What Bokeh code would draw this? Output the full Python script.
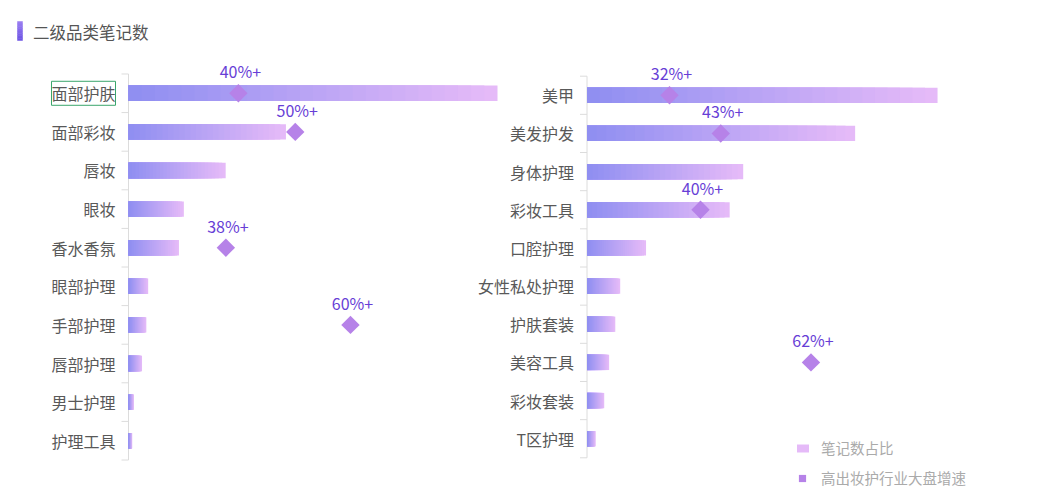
import numpy as np
from bokeh.plotting import figure
from bokeh.layouts import column
from bokeh.models import Range1d, FactorRange, Legend, LegendItem, ColumnDataSource
from bokeh.embed import file_html
from bokeh.resources import INLINE
from bokeh.core.properties import value

# ---------------- data ----------------
title_text = "二级品类笔记数"
left_categories = ["面部护肤", "面部彩妆", "唇妆", "眼妆", "香水香氛",
                   "眼部护理", "手部护理", "唇部护理", "男士护理", "护理工具"]
left_share = [30.0, 12.8, 7.9, 4.5, 4.1, 1.6, 1.45, 1.1, 0.43, 0.3]
right_categories = ["美甲", "美发护发", "身体护理", "彩妆工具", "口腔护理",
                    "女性私处护理", "护肤套装", "美容工具", "彩妆套装", "T区护理"]
right_share = [28.5, 21.8, 12.7, 11.6, 4.8, 2.7, 2.3, 1.8, 1.4, 0.7]
left_growth_categories = ["面部护肤", "面部彩妆", "香水香氛", "手部护理"]
left_growth = [40.4, 50.4, 38.2, 60.1]
left_growth_labels = ["40%+", "50%+", "38%+", "60%+"]
right_growth_categories = ["美甲", "美发护发", "彩妆工具", "美容工具"]
right_growth = [32.0, 42.9, 38.6, 62.1]
right_growth_labels = ["32%+", "43%+", "40%+", "62%+"]
legend_labels = ["笔记数占比", "高出妆护行业大盘增速"]
highlighted = "面部护肤"

# ---------------- style ----------------
FONT = "Noto Sans CJK SC"
W = 1041
HEAD_H = 44
MAIN_H = 445
K = 12.3                 # px per share unit
KG_L, KG_R = 5.69, 4.7   # px per growth unit
LEFT0 = 128              # frame px of left bar origin
RIGHT0 = 586.5           # frame px of right bar origin
LG0 = 8                  # frame px of left growth origin
RG0 = 518.6              # frame px of right growth origin
TICK = 7                 # tick length px
C0 = np.array([0x8e, 0x8e, 0xf1])
C1 = np.array([0xe7, 0xbb, 0xf8])
AXIS_C = "#dcdcdc"
DIAMOND = "#b682e8"
LABEL_C = "#673ed6"


def mix(a, b, t):
    c = a + (b - a) * t
    return "#%02x%02x%02x" % tuple(int(round(v)) for v in c)


def gradient_source(cats, vals, n=28):
    ys, rights, colors = [], [], []
    for c, v in zip(cats, vals):
        for i in range(n, 0, -1):
            ys.append(c)
            rights.append(v * i / n)
            colors.append(mix(C0, C1, (i - 0.5) / n))
    return ColumnDataSource(dict(y=ys, right=rights, color=colors))


# ---------------- header (title) ----------------
head = figure(width=W, height=HEAD_H, output_backend="svg", toolbar_location=None,
              x_range=Range1d(0, W), y_range=Range1d(HEAD_H, 0),
              min_border=0, x_axis_location=None, y_axis_location=None,
              outline_line_color=None)
head.grid.visible = False
nm = 8
M0, M1 = np.array([0x9c, 0x80, 0xf2]), np.array([0x6c, 0x53, 0xe4])
head.quad(left=17, right=22,
          top=[21 + 19 * i / nm for i in range(nm)],
          bottom=[21 + 19 * (i + 1) / nm for i in range(nm)],
          fill_color=[mix(M0, M1, (i + 0.5) / nm) for i in range(nm)],
          line_color=[mix(M0, M1, (i + 0.5) / nm) for i in range(nm)], line_width=0.5)
head.text(x=[32.5], y=[31.5], text=[title_text], text_baseline="middle",
          text_align="left", text_color="#555555", text_font_size="16.5px",
          text_font=value(FONT))

# ---------------- main chart ----------------
p = figure(width=W, height=MAIN_H, output_backend="svg", toolbar_location=None,
           x_range=Range1d(-LEFT0 / K, (W - LEFT0) / K),
           y_range=FactorRange(factors=left_categories[::-1], range_padding=0.1528),
           min_border=0, x_axis_location=None, y_axis_location=None,
           outline_line_color=None)
p.grid.visible = False
p.extra_x_ranges = {
    "rbar": Range1d(-RIGHT0 / K, (W - RIGHT0) / K),
    "lg": Range1d(-LG0 / KG_L, (W - LG0) / KG_L),
    "rg": Range1d(-RG0 / KG_R, (W - RG0) / KG_R),
}
p.extra_y_ranges = {"rcat": FactorRange(factors=right_categories[::-1], range_padding=0.1661)}

# axes (lines + boundary ticks)
for xr, yr, cats in (("default", "default", left_categories), ("rbar", "rcat", right_categories)):
    n = len(cats)
    p.segment(x0=0, x1=0, y0=0, y1=n, line_color=AXIS_C, line_width=1,
              x_range_name=xr, y_range_name=yr)
    p.segment(x0=-TICK / K, x1=0, y0=list(range(n + 1)), y1=list(range(n + 1)),
              line_color=AXIS_C, line_width=1, x_range_name=xr, y_range_name=yr)

# category labels
p.text(x=0, y=left_categories, text=left_categories, x_offset=-13,
       text_align="right", text_baseline="middle", text_color="#595959",
       text_font_size="16px", text_font=value(FONT),
       border_line_color="#3aa56b",
       border_line_alpha=[1 if c == highlighted else 0 for c in left_categories],
       padding=0)
p.text(x=0, y=right_categories, text=right_categories, x_offset=-13,
       text_align="right", text_baseline="middle", text_color="#595959",
       text_font_size="16px", text_font=value(FONT),
       x_range_name="rbar", y_range_name="rcat")

# bars (horizontal gradient)
lbar = p.hbar(y="y", left=0, right="right", height=0.4, fill_color="color",
              line_color=None, source=gradient_source(left_categories, left_share))
p.hbar(y="y", left=0, right="right", height=0.4, fill_color="color",
       line_color=None, source=gradient_source(right_categories, right_share),
       x_range_name="rbar", y_range_name="rcat")

# growth diamonds + labels
ldia = p.scatter(x=left_growth, y=left_growth_categories, marker="square",
                 angle=np.pi / 4, size=13, fill_color=DIAMOND, line_color=None,
                 x_range_name="lg")
p.scatter(x=right_growth, y=right_growth_categories, marker="square",
          angle=np.pi / 4, size=13, fill_color=DIAMOND, line_color=None,
          x_range_name="rg", y_range_name="rcat")
p.text(x=left_growth, y=left_growth_categories, text=left_growth_labels,
       x_offset=2, y_offset=-22, text_align="center", text_baseline="middle",
       text_color=LABEL_C, text_font_size="16px", text_font=value(FONT),
       x_range_name="lg")
p.text(x=right_growth, y=right_growth_categories, text=right_growth_labels,
       x_offset=2, y_offset=-22, text_align="center", text_baseline="middle",
       text_color=LABEL_C, text_font_size="16px", text_font=value(FONT),
       x_range_name="rg", y_range_name="rcat")

common = dict(orientation="vertical", padding=0, margin=0, border_line_color=None,
              background_fill_alpha=0, label_text_color="#aaaaaa",
              label_text_font_size="14.5px", label_text_font=FONT, label_height=20)
leg_bar = Legend(items=[LegendItem(label=legend_labels[0], renderers=[lbar], index=0)],
                 location=(795, 31), glyph_width=15, glyph_height=10,
                 label_standoff=11, **common)
leg_dia = Legend(items=[LegendItem(label=legend_labels[1], renderers=[ldia], index=0)],
                 location=(793, 1), glyph_width=18, glyph_height=18,
                 label_standoff=10, **common)
p.add_layout(leg_bar)
p.add_layout(leg_dia)

layout = column(head, p, spacing=0)
open("out.html", "w").write(file_html(layout, INLINE))
